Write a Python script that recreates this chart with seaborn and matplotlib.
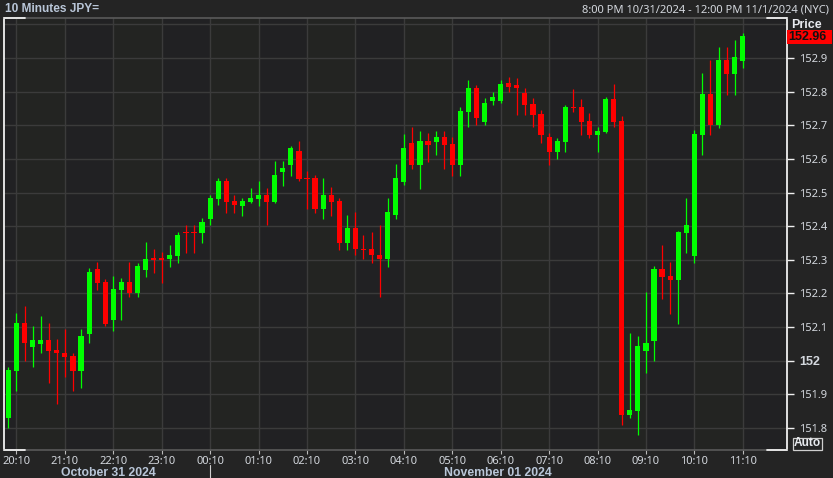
import matplotlib
matplotlib.use("Agg")
import matplotlib.pyplot as plt
from matplotlib.lines import Line2D
from matplotlib.patches import Rectangle
import numpy as np
import pandas as pd
import seaborn as sns

# ---------------- data (10-minute candles, 20:00 10/31 -> 11:10 11/1) ----------------
opens = [151.831, 151.970, 152.112, 152.042, 152.050, 152.062, 152.032, 152.022, 152.015, 151.970,
         152.080, 152.273, 152.235, 152.121, 152.210, 152.235, 152.202, 152.270, 152.303, 152.303,
         152.302, 152.312, 152.383, 152.383, 152.381, 152.422, 152.482, 152.534, 152.475, 152.460,
         152.472, 152.481, 152.493, 152.473, 152.562, 152.583, 152.624, 152.543, 152.542, 152.452,
         152.493, 152.475, 152.351, 152.394, 152.332, 152.331, 152.314, 152.302, 152.433, 152.532,
         152.646, 152.582, 152.653, 152.651, 152.665, 152.645, 152.582, 152.740, 152.811, 152.711,
         152.771, 152.772, 152.826, 152.820, 152.796, 152.763, 152.734, 152.664, 152.621, 152.651,
         152.754, 152.755, 152.713, 152.671, 152.681, 152.777, 152.714, 151.839, 151.852, 152.030,
         152.060, 152.273, 152.252, 152.240, 152.381, 152.312, 152.671, 152.792, 152.701, 152.894,
         152.852, 152.891]
highs = [151.981, 152.142, 152.164, 152.103, 152.133, 152.111, 152.064, 152.094, 152.023, 152.094,
         152.275, 152.294, 152.242, 152.252, 152.245, 152.294, 152.291, 152.353, 152.331, 152.324,
         152.344, 152.383, 152.404, 152.404, 152.424, 152.493, 152.544, 152.544, 152.493, 152.483,
         152.514, 152.534, 152.514, 152.594, 152.594, 152.638, 152.654, 152.564, 152.552, 152.544,
         152.516, 152.485, 152.433, 152.443, 152.374, 152.382, 152.404, 152.485, 152.585, 152.674,
         152.696, 152.683, 152.676, 152.683, 152.683, 152.664, 152.755, 152.835, 152.820, 152.781,
         152.800, 152.835, 152.844, 152.840, 152.810, 152.780, 152.745, 152.678, 152.662, 152.760,
         152.807, 152.777, 152.736, 152.696, 152.785, 152.823, 152.728, 152.082, 152.074, 152.205,
         152.283, 152.344, 152.294, 152.385, 152.483, 152.686, 152.855, 152.894, 152.932, 152.932,
         152.954, 152.973]
lows = [151.801, 151.911, 152.000, 151.981, 152.022, 151.933, 151.871, 151.953, 151.911, 151.920,
        152.052, 152.210, 152.103, 152.089, 152.121, 152.189, 152.190, 152.250, 152.262, 152.232,
        152.280, 152.291, 152.321, 152.321, 152.351, 152.404, 152.462, 152.440, 152.440, 152.431,
        152.470, 152.461, 152.404, 152.470, 152.520, 152.549, 152.534, 152.450, 152.440, 152.422,
        152.431, 152.329, 152.329, 152.314, 152.302, 152.291, 152.190, 152.280, 152.421, 152.522,
        152.570, 152.510, 152.592, 152.612, 152.570, 152.549, 152.549, 152.694, 152.701, 152.701,
        152.760, 152.765, 152.800, 152.730, 152.730, 152.694, 152.647, 152.582, 152.600, 152.621,
        152.740, 152.671, 152.661, 152.621, 152.678, 152.694, 151.809, 151.831, 151.779, 151.963,
        152.000, 152.183, 152.139, 152.109, 152.321, 152.291, 152.612, 152.671, 152.691, 152.790,
        152.790, 152.871]
closes = [151.972, 152.112, 152.052, 152.062, 152.062, 152.030, 152.022, 152.012, 151.970, 152.074,
          152.265, 152.232, 152.110, 152.213, 152.235, 152.202, 152.282, 152.302, 152.301, 152.301,
          152.314, 152.374, 152.381, 152.381, 152.412, 152.485, 152.534, 152.473, 152.462, 152.475,
          152.484, 152.494, 152.473, 152.552, 152.572, 152.632, 152.541, 152.541, 152.452, 152.493,
          152.473, 152.351, 152.394, 152.331, 152.330, 152.314, 152.302, 152.443, 152.544, 152.633,
          152.582, 152.654, 152.641, 152.665, 152.641, 152.582, 152.742, 152.811, 152.723, 152.766,
          152.783, 152.823, 152.814, 152.810, 152.760, 152.730, 152.671, 152.621, 152.653, 152.753,
          152.752, 152.711, 152.671, 152.683, 152.777, 152.711, 151.839, 151.854, 152.044, 152.054,
          152.273, 152.250, 152.240, 152.383, 152.404, 152.674, 152.792, 152.701, 152.894, 152.852,
          152.902, 152.965]

hour_labels = ["20:10", "21:10", "22:10", "23:10", "00:10", "01:10", "02:10", "03:10",
               "04:10", "05:10", "06:10", "07:10", "08:10", "09:10", "10:10", "11:10"]
price_ticks = [152.9, 152.8, 152.7, 152.6, 152.5, 152.4, 152.3, 152.2, 152.1, 152.0, 151.9, 151.8]
last_price = 152.96

times = pd.date_range("2024-10-31 20:00", periods=len(opens), freq="10min")
df = pd.DataFrame({"time": times, "open": opens, "high": highs, "low": lows, "close": closes})
df["idx"] = np.arange(len(df))
df["label"] = df["time"].dt.strftime("%H:%M")

# ---------------- style ----------------
FIG_BG = "#242424"
AX_BG = "#212123"
BAND = "#232422"
GRID = "#3b3b3b"
TXT = "#d4d8de"
BLUE_TXT = "#b9c6d8"
UP = "#00ff00"
DOWN = "#ff0000"
BOLD_FAM = ["Liberation Sans", "DejaVu Sans"]

sns.set_theme(style="dark", rc={"axes.facecolor": AX_BG, "figure.facecolor": FIG_BG})
plt.rcParams["font.family"] = ["Noto Sans", "DejaVu Sans"]

W, H = 833, 478
fig = plt.figure(figsize=(W / 100, H / 100), dpi=100, facecolor=FIG_BG)
L_, R_, T_, B_ = 4, 787, 18, 450
ax = fig.add_axes([L_ / W, 1 - B_ / H, (R_ - L_) / W, (B_ - T_) / H])
ax.set_facecolor(AX_BG)

px_per_bar = 8.07
x0 = 8.4
xmin = (L_ - x0) / px_per_bar
xmax = (R_ - x0) / px_per_bar
ymax = 152.9 + (58 - T_) / 336.4
ymin = 152.9 - (B_ - 58) / 336.4
ax.set_xlim(xmin, xmax)
ax.set_ylim(ymin, ymax)

# alternating hour bands
hour_pos = [df.index[df["label"] == h][0] for h in hour_labels]
edges = [xmin] + hour_pos + [xmax]
for k in range(len(edges) - 1):
    if k % 2 == 1:
        ax.axvspan(edges[k], edges[k + 1], color=BAND, lw=0, zorder=0)

# grid
for p in price_ticks + [153.0]:
    ax.axhline(p, color=GRID, lw=1.0, zorder=1)
for hp in hour_pos:
    ax.axvline(hp, color=GRID, lw=1.0, zorder=1)
ax.grid(False)

# candles
up = df["close"] >= df["open"]
cols = np.where(up, UP, DOWN)
ax.vlines(df["idx"], df["low"], df["high"], colors=cols, lw=0.9, zorder=3)
body_lo = np.minimum(df["open"], df["close"])
body_h = np.maximum(np.abs(df["close"] - df["open"]), 0.0032)
ax.bar(df["idx"], body_h, bottom=body_lo, width=0.64, color=cols, linewidth=0, zorder=4)

# spines
for s in ["top", "bottom"]:
    ax.spines[s].set_color("#5a5a5a")
    ax.spines[s].set_linewidth(1.2)
for s in ["left", "right"]:
    ax.spines[s].set_color("#f0f0f0")
    ax.spines[s].set_linewidth(1.3)

# x ticks
ax.set_xticks(hour_pos)
ax.set_xticklabels(hour_labels)
ax.tick_params(axis="x", bottom=True, length=3, width=0.8, color="#bbbbbb", pad=1.5,
               labelsize=8, labelcolor=TXT)
# y ticks on right
ax.yaxis.tick_right()
ax.set_yticks(price_ticks)
ax.set_yticklabels([("%g" % p) for p in price_ticks])
ax.tick_params(axis="y", right=True, left=False, length=5, width=1.0, color="#f0f0f0", pad=4,
               labelsize=8, labelcolor=TXT)
for lab in ax.get_yticklabels():
    if lab.get_text() == "152":
        lab.set_fontweight("bold")
        lab.set_family(BOLD_FAM)
        lab.set_fontsize(9)

# white corner highlights on frame
def fig_line(xa, xb, ya, yb, color="#f0f0f0", lw=1.3):
    fig.add_artist(Line2D([xa / W, xb / W], [1 - ya / H, 1 - yb / H], color=color, lw=lw))

fig_line(L_, 25, T_, T_)
fig_line(L_, 25, B_, B_)
fig_line(767, R_, T_, T_)
fig_line(767, R_, B_, B_)
# day separator
fig_line(210.3, 210.3, 465, 478, color="#cfcfcf", lw=0.8)

# texts
fig.text(5 / W, 1 - 9.5 / H, "10 Minutes JPY=", color=BLUE_TXT, fontsize=8.6, fontweight="bold",
         family=BOLD_FAM, ha="left", va="center")
fig.text(829 / W, 1 - 9.5 / H, "8:00 PM 10/31/2024 - 12:00 PM 11/1/2024 (NYC)", color=TXT,
         fontsize=8, ha="right", va="center")
fig.text(806 / W, 1 - 25 / H, "Price", color="#e8eaee", fontsize=9, fontweight="bold",
         family=BOLD_FAM, ha="center", va="center")
fig.add_artist(Rectangle((787 / W, 1 - 44 / H), 45 / W, 13.5 / H, transform=fig.transFigure,
                         facecolor=DOWN, edgecolor="none"))
fig.text(807 / W, 1 - 37.2 / H, "%.2f" % last_price, color="#111111", fontsize=9,
         fontweight="bold", family=BOLD_FAM, ha="center", va="center")
fig.add_artist(Rectangle((793 / W, 1 - 449.5 / H), 29 / W, 12 / H, transform=fig.transFigure,
                         facecolor="none", edgecolor="#cfcfcf", lw=0.9))
fig.text(807.5 / W, 1 - 443.5 / H, "Auto", color="#e8eaee", fontsize=8.6, fontweight="bold",
         family=BOLD_FAM, ha="center", va="center")
fig.text(108 / W, 1 - 473 / H, "October 31 2024", color=BLUE_TXT, fontsize=8.8, fontweight="bold",
         family=BOLD_FAM, ha="center", va="center")
fig.text(498 / W, 1 - 473 / H, "November 01 2024", color=BLUE_TXT, fontsize=8.8,
         fontweight="bold", family=BOLD_FAM, ha="center", va="center")

fig.savefig("out.png", dpi=100, facecolor=FIG_BG)
